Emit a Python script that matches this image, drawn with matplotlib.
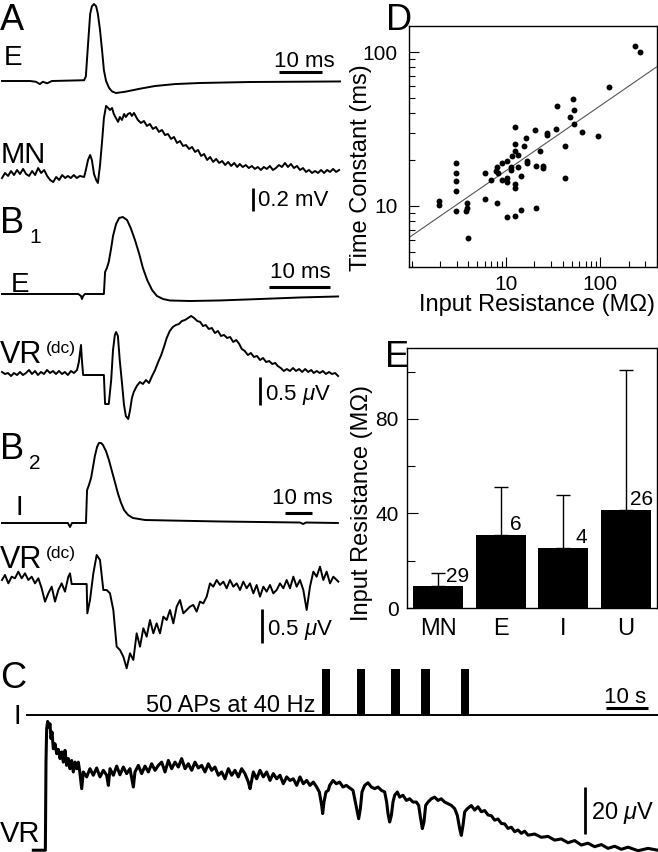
import numpy as np
import matplotlib
matplotlib.use("Agg")
import matplotlib.pyplot as plt
from matplotlib.ticker import FixedLocator, LogLocator, NullFormatter, FuncFormatter

plt.rcParams['font.family'] = ['Liberation Sans', 'DejaVu Sans']
plt.rcParams['mathtext.fontset'] = 'custom'
plt.rcParams['mathtext.rm'] = 'Liberation Sans'
plt.rcParams['mathtext.it'] = 'Liberation Sans:italic'

W, H = 658, 852

# ---- data ----
# A: E cell spike (normalised) and MN response (mV), time in ms
a_e = np.array([[0, 0], [6.5, 0], [7.9, -0.01], [8.8, -0.04], [9.5, -0.01], [10.5, -0.03], [11.6, 0],
                [19.1, 0.01], [19.5, 0.06], [20.0, 0.47], [20.5, 0.87], [20.9, 0.97], [21.4, 1.0],
                [21.9, 0.97], [22.3, 0.87], [22.8, 0.66], [23.3, 0.38], [23.7, 0.14], [24.2, 0],
                [24.9, -0.09], [25.6, -0.136], [26.5, -0.156], [28.6, -0.14], [32.1, -0.10],
                [35.6, -0.065], [40.2, -0.04], [46.0, -0.026], [57.7, -0.013], [78.6, -0.006]])

a_mn = np.array([[0, -0.009], [0.7, 0.035], [1.4, 0.009], [2.1, 0.052], [2.8, 0.017], [3.5, 0.061],
                 [4.2, 0.026], [4.9, 0.070], [5.6, 0.026], [6.3, 0.009], [7.0, 0.052], [7.7, 0.017],
                 [8.4, 0.078], [9.1, 0.035], [9.8, 0.061], [10.5, 0.009], [11.2, -0.026], [11.9, -0.044],
                 [12.6, 0], [13.3, -0.026], [14.0, 0.017], [14.7, -0.009], [15.3, 0.009], [16.0, -0.009],
                 [16.7, 0.017], [17.4, -0.009], [18.1, 0.009], [19.1, 0], [19.5, 0.061], [20.0, 0.148],
                 [20.5, 0.191], [20.9, 0.148], [21.4, 0.026], [21.9, -0.026], [22.3, -0.052], [22.8, 0.104],
                 [23.3, 0.322], [23.7, 0.513], [24.2, 0.618], [24.7, 0.600], [25.1, 0.583], [25.6, 0.600],
                 [26.0, 0.548], [26.5, 0.513], [27.0, 0.479], [27.4, 0.522], [27.9, 0.496], [28.4, 0.548],
                 [28.8, 0.522], [29.3, 0.548], [29.8, 0.557], [30.2, 0.531], [30.7, 0.557], [31.2, 0.522],
                 [31.6, 0.496], [32.3, 0.470], [33.0, 0.487], [33.7, 0.444], [34.4, 0.461], [35.1, 0.418],
                 [35.8, 0.435], [36.5, 0.392], [37.2, 0.409], [37.9, 0.365], [38.6, 0.374], [39.3, 0.331],
                 [40.0, 0.348], [40.7, 0.296], [41.4, 0.313], [42.1, 0.270], [42.8, 0.278], [43.5, 0.244],
                 [44.2, 0.261], [44.9, 0.218], [45.6, 0.235], [46.3, 0.183], [47.0, 0.200], [47.7, 0.148],
                 [48.4, 0.174], [49.1, 0.131], [49.8, 0.157], [50.5, 0.122], [51.2, 0.139], [51.9, 0.104],
                 [52.6, 0.131], [53.3, 0.096], [54.0, 0.122], [54.7, 0.087], [55.3, 0.113], [56.0, 0.087],
                 [56.7, 0.104], [57.4, 0.078], [58.1, 0.096], [58.8, 0.070], [59.5, 0.087], [60.2, 0.061],
                 [60.9, 0.087], [61.6, 0.070], [62.3, 0.096], [63.0, 0.061], [63.7, 0.078], [64.4, 0.104],
                 [65.1, 0.087], [65.8, 0.122], [66.5, 0.087], [67.2, 0.113], [67.9, 0.078], [68.6, 0.096],
                 [69.3, 0.061], [70.0, 0.078], [70.7, 0.044], [71.4, 0.061], [72.1, 0.035], [72.8, 0.052],
                 [73.5, 0.035], [74.2, 0.061], [74.9, 0.035], [75.6, 0.061], [76.3, 0.044], [77.0, 0.070],
                 [77.7, 0.044], [78.4, 0.061]])

# B1: E cell spike (normalised) and ventral root dc (uV), ms
b1_e = np.array([[0, 0], [12.5, 0], [12.95, -0.026], [13.1, -0.065], [13.3, -0.026], [13.6, 0], [16.7, 0],
                 [16.9, 0.286], [17.2, 0.338], [17.5, 0.416], [17.9, 0.597], [18.2, 0.753], [18.7, 0.909],
                 [19.2, 0.987], [19.8, 1.0], [20.5, 0.961], [21.1, 0.857], [21.8, 0.701], [22.5, 0.519],
                 [23.1, 0.338], [23.8, 0.182], [24.6, 0.052], [25.4, -0.026], [26.4, -0.065], [27.5, -0.084],
                 [30.8, -0.091], [35.7, -0.084], [42.3, -0.065], [48.9, -0.045], [55.1, -0.032]])

b1_vr = np.array([[0, 0.018], [0.49, -0.018], [0.98, 0], [1.48, -0.054], [1.97, 0], [2.46, -0.036],
                  [2.95, 0.018], [3.44, -0.036], [3.93, 0], [4.43, 0.054], [4.92, -0.018], [5.41, 0.036],
                  [5.90, -0.036], [6.39, 0.018], [6.89, -0.018], [7.38, 0.054], [7.87, 0], [8.36, 0.036],
                  [8.85, -0.018], [9.34, 0.036], [9.84, -0.018], [10.3, 0.018], [10.8, -0.036], [11.3, 0.036],
                  [11.8, 0], [12.3, 0.054], [12.6, 0.196], [12.95, 0.5], [13.1, 0.232], [13.3, -0.036],
                  [16.7, -0.036], [16.9, -0.554], [17.5, -0.554], [17.9, -0.125], [18.2, 0.411], [18.5, 0.679],
                  [18.7, 0.732], [19.0, 0.661], [19.3, 0.232], [19.7, -0.214], [20.0, -0.571], [20.3, -0.768],
                  [20.7, -0.821], [21.0, -0.661], [21.3, -0.446], [21.6, -0.339], [22.1, -0.232], [22.6, -0.161],
                  [23.1, -0.196], [23.6, -0.125], [24.1, -0.179], [24.6, -0.054], [25.1, 0.054], [25.6, 0.196],
                  [26.1, 0.321], [26.6, 0.482], [27.0, 0.625], [27.5, 0.75], [28.0, 0.821], [28.5, 0.857],
                  [29.0, 0.875], [29.5, 0.929], [30.0, 0.946], [30.5, 0.982], [31.0, 1.018], [31.5, 0.982],
                  [32.0, 0.929], [32.5, 0.911], [32.95, 0.839], [33.4, 0.857], [33.9, 0.786], [34.4, 0.804],
                  [34.9, 0.714], [35.4, 0.75], [35.9, 0.661], [36.4, 0.679], [36.9, 0.625], [37.4, 0.643],
                  [37.9, 0.554], [38.4, 0.589], [38.9, 0.518], [39.3, 0.429], [39.8, 0.393], [40.3, 0.321],
                  [40.8, 0.357], [41.3, 0.286], [41.8, 0.304], [42.3, 0.232], [42.8, 0.268], [43.3, 0.196],
                  [43.8, 0.214], [44.3, 0.161], [44.8, 0.179], [45.2, 0.125], [45.7, 0.089], [46.2, 0.036],
                  [46.7, 0.071], [47.2, 0.036], [47.7, 0.089], [48.2, 0.036], [48.7, 0.071], [49.2, 0.018],
                  [49.7, 0.071], [50.2, 0.018], [50.7, 0.054], [51.1, 0], [51.6, 0.036], [52.1, 0],
                  [52.6, 0.036], [53.1, -0.018], [53.6, 0.018], [54.1, -0.018], [54.6, 0], [55.1, -0.054]])

# B2: I cell spike (normalised) and ventral root dc (uV), ms
b2_i = np.array([[0, 0], [24.4, 0], [25.2, -0.05], [25.9, 0], [31.1, 0], [31.5, 0.41], [32.2, 0.475],
                 [33.0, 0.5625], [33.7, 0.70], [34.4, 0.8375], [35.2, 0.95], [35.9, 1.0], [36.7, 1.0],
                 [37.4, 0.975], [38.5, 0.9], [39.6, 0.7875], [40.7, 0.65], [41.9, 0.50], [43.0, 0.3625],
                 [44.1, 0.25], [45.2, 0.1625], [46.7, 0.10], [48.5, 0.0625], [53.0, 0.0375], [62.2, 0.031],
                 [80.7, 0.019], [110.4, 0.006], [111.5, -0.0125], [112.6, 0.006], [124.4, 0]])

b2_vr = np.array([[0, 0.044], [1.11, 0.118], [2.35, -0.005], [3.58, 0.093], [4.81, 0.069], [6.05, 0.167],
                  [7.28, 0.069], [8.52, 0.142], [9.75, 0.044], [10.99, 0.093], [12.22, -0.005], [13.46, 0.069],
                  [14.69, -0.078], [15.93, -0.274], [17.16, -0.152], [18.40, -0.054], [19.63, -0.274],
                  [20.86, -0.103], [22.10, -0.005], [23.33, -0.127], [24.57, 0.093], [25.19, 0.142],
                  [25.80, -0.015], [31.36, -0.015], [31.60, -0.446], [32.59, -0.250], [33.83, 0.142],
                  [35.06, 0.412], [36.30, 0.338], [37.53, -0.103], [38.77, -0.103], [40.0, -0.152],
                  [41.23, -0.397], [42.47, -0.936], [43.70, -0.985], [44.94, -1.083], [46.17, -1.254],
                  [47.41, -1.034], [48.64, -1.132], [49.88, -0.740], [51.11, -0.936], [52.35, -0.666],
                  [53.58, -0.789], [54.81, -0.544], [56.05, -0.740], [57.28, -0.593], [58.52, -0.740],
                  [59.75, -0.495], [60.99, -0.544], [62.22, -0.397], [63.46, -0.593], [64.69, -0.348],
                  [65.93, -0.250], [67.16, -0.446], [68.40, -0.397], [69.63, -0.348], [70.86, -0.323],
                  [72.10, -0.421], [73.33, -0.274], [74.57, -0.299], [75.80, -0.201], [77.04, -0.005],
                  [78.27, -0.054], [79.51, 0.044], [80.74, -0.029], [81.98, 0.020], [83.21, -0.078],
                  [84.44, 0.044], [85.68, -0.054], [86.91, -0.005], [88.15, -0.103], [89.38, 0.020],
                  [90.62, -0.078], [91.85, -0.005], [93.09, -0.152], [94.32, -0.029], [95.56, -0.201],
                  [96.79, -0.054], [98.02, -0.127], [99.26, -0.029], [100.49, -0.152], [101.73, -0.103],
                  [102.96, -0.005], [104.20, -0.078], [105.43, 0.044], [106.67, -0.078], [107.90, 0.093],
                  [109.14, -0.054], [110.37, 0.044], [111.60, -0.103], [112.84, -0.397], [114.07, -0.054],
                  [115.31, 0.167], [116.54, 0.093], [117.78, 0.240], [119.01, 0.044], [120.25, 0.167],
                  [121.48, -0.005], [122.72, 0.093], [124.57, 0.020]])

# C: stimulus trains (s) and ventral root response (uV), time in s
c_i_span = [0, 150.2]
train_start = [70.2, 78.6, 86.7, 93.8, 103.3]
train_end = [72.1, 80.5, 88.8, 95.9, 105.2]

c_vr = np.array([[1.51, -0.1], [4.37, -0.1], [4.52, 37.4], [4.68, 51.6], [4.92, 54.7], [5.24, 52.3],
                 [5.48, 53.7], [5.71, 47.4], [5.95, 50.2], [6.27, 43.1], [6.67, 45.2], [7.06, 41.0],
                 [7.46, 42.8], [7.86, 38.9], [8.25, 41.7], [8.65, 37.4], [9.05, 42.4], [9.44, 36.0],
                 [9.84, 38.9], [10.24, 34.6], [10.63, 38.1], [11.03, 33.2], [11.43, 37.4], [11.83, 34.6],
                 [12.22, 37.4], [12.62, 32.5], [13.02, 26.1], [13.41, 33.2], [14.21, 31.1], [15.0, 34.6],
                 [15.79, 31.8], [16.59, 34.9], [17.38, 31.1], [18.17, 33.9], [18.97, 31.8], [19.37, 27.5],
                 [19.76, 34.6], [20.56, 31.8], [21.35, 35.7], [22.14, 32.0], [22.94, 35.3], [23.73, 32.5],
                 [24.52, 34.6], [25.32, 26.8], [25.71, 33.2], [26.51, 36.0], [27.30, 32.5], [28.10, 35.7],
                 [28.89, 33.2], [29.68, 36.7], [30.48, 33.9], [31.27, 36.0], [32.06, 37.4], [32.86, 33.2],
                 [33.65, 38.1], [34.44, 34.6], [35.24, 37.4], [36.03, 35.3], [36.83, 38.9], [37.62, 34.6],
                 [38.41, 36.7], [39.21, 33.9], [40.0, 37.4], [40.79, 34.9], [41.59, 36.0], [42.38, 33.2],
                 [43.17, 36.7], [43.97, 33.9], [44.76, 35.3], [45.56, 31.8], [46.35, 33.2], [47.14, 30.3],
                 [47.94, 34.6], [48.73, 31.8], [49.52, 33.9], [50.32, 31.1], [51.11, 34.6], [51.90, 32.5],
                 [52.70, 28.9], [53.10, 26.1], [53.89, 33.2], [54.68, 30.3], [55.48, 33.9], [56.27, 31.1],
                 [57.06, 33.2], [57.86, 29.6], [58.65, 32.5], [59.44, 30.3], [60.24, 31.8], [61.03, 28.2],
                 [61.83, 31.1], [62.62, 29.6], [63.41, 30.3], [64.21, 27.5], [65.0, 31.1], [65.79, 28.2],
                 [66.59, 29.6], [67.38, 27.5], [68.17, 28.9], [68.97, 26.8], [69.60, 24.7], [70.16, 19.0],
                 [70.40, 15.5], [70.71, 20.4], [71.19, 24.7], [71.75, 25.4], [72.06, 27.5], [72.86, 29.6],
                 [73.65, 28.2], [74.44, 28.9], [75.24, 26.8], [76.03, 27.5], [76.83, 26.4], [77.62, 25.4],
                 [78.17, 20.4], [78.65, 16.2], [78.97, 13.3], [79.37, 17.6], [79.76, 24.7], [80.40, 27.5],
                 [81.19, 28.6], [81.98, 26.8], [82.78, 26.1], [83.57, 26.8], [84.37, 25.4], [85.16, 24.7],
                 [85.63, 20.4], [85.95, 15.5], [86.35, 11.9], [86.75, 14.7], [87.14, 20.4], [87.54, 23.3],
                 [88.17, 24.7], [88.73, 22.5], [89.52, 23.3], [90.32, 21.1], [91.11, 21.8], [91.90, 20.4],
                 [92.70, 20.4], [93.25, 19.0], [93.73, 13.3], [94.13, 9.1], [94.52, 11.9], [94.92, 19.0],
                 [95.48, 20.4], [96.27, 21.8], [97.06, 22.5], [97.86, 21.1], [98.65, 21.8], [99.44, 20.4],
                 [100.24, 19.7], [101.03, 19.0], [101.83, 17.6], [102.46, 14.7], [103.02, 9.1], [103.41, 6.2],
                 [103.81, 10.5], [104.21, 16.2], [104.84, 17.6], [105.79, 18.9], [106.59, 17.0], [107.38, 18.4],
                 [108.17, 16.3], [108.97, 16.8], [109.76, 14.9], [110.56, 14.6], [111.35, 12.7], [112.14, 13.2],
                 [112.94, 11.3], [113.73, 11.1], [114.52, 9.2], [115.32, 9.7], [116.11, 7.8], [116.90, 8.5],
                 [117.70, 7.1], [118.49, 8.0], [119.29, 6.3], [120.87, 6.8], [122.46, 5.4], [124.05, 5.8],
                 [125.63, 4.2], [127.22, 4.7], [128.81, 3.1], [130.40, 4.0], [131.98, 2.1], [133.57, 2.9],
                 [135.16, 1.4], [136.75, 2.3], [138.33, 0.7], [139.92, 1.6], [141.51, 0.3], [143.10, 1.2],
                 [145.48, -0.3], [147.86, 0.7], [150.24, -0.1]])

# D: input resistance (MOhm) vs time constant (ms)
d_res = [235.6, 262, 122.8, 51.2, 35.2, 53.3, 48, 53.3, 33.7, 63.8,
         94.4, 27.1, 27.1, 20.5, 12.4, 16.4, 12.5, 15.5, 42.5, 23,
         12.5, 13.4, 11.5, 10.2, 9.06, 8.15, 7.83, 8.29, 11.4, 11.4,
         13.5, 16.6, 16.6, 20.8, 24.9, 24.9, 6.03, 7.04, 9.14, 10.3,
         10.2, 14.5, 12.5, 12.4, 42.5, 2.96, 2.96, 2.96, 2.96, 1.94,
         1.94, 2.96, 3.91, 3.91, 3.82, 3.97, 6.03, 8.09, 10.2, 12.4,
         14.5, 20.7]
d_tau = [110.4, 101, 59.2, 49.3, 44.7, 42.1, 38, 34.1, 31.6, 30.2,
         28.4, 29.9, 28.9, 31.1, 32.4, 27.7, 25.1, 24.5, 24.6, 22.9,
         22.9, 21.4, 21.1, 19.6, 18.9, 17.8, 16.9, 16.3, 18, 17.1,
         18, 19.5, 18.9, 18.1, 18.1, 17.5, 16.4, 14.7, 14.8, 15.1,
         14.2, 15.6, 13.8, 13, 15.2, 18.9, 16.4, 14.6, 12.5, 10.8,
         10.2, 9.27, 10.4, 9.75, 9.27, 6.21, 11.1, 10.5, 8.47, 8.57,
         9.46, 9.62]
fit_slope = 0.423
fit_log_intercept = 0.805

# E: mean input resistance per cell class
e_cells = ['MN', 'E', 'I', 'U']
e_mean = [9.1, 31.0, 25.3, 41.4]
e_sd = [5.6, 20.2, 22.3, 59.5]
e_n = ['29', '6', '4', '26']

fig = plt.figure(figsize=(W / 100, H / 100), dpi=100)


def px_axes(x0, y0, x1, y1):
    return fig.add_axes([x0 / W, 1 - y1 / H, (x1 - x0) / W, (y1 - y0) / H])


def trace_axes(t_px, px_per_t, v_px, px_per_v):
    # whole-figure axes; zero of the trace sits at pixel (t_px, v_px)
    ax = fig.add_axes([0, 0, 1, 1])
    ax.set_xlim(-t_px / px_per_t, (W - t_px) / px_per_t)
    ax.set_ylim(-(H - v_px) / px_per_v, v_px / px_per_v)
    ax.axis('off')
    return ax


def scale_bar(ax, x_px, y_px, length, vertical=False, lw=2.2):
    t0, v0 = ax.transData.inverted().transform((x_px, H - y_px))
    if vertical:
        ax.plot([t0, t0], [v0, v0 - length], color='black', lw=lw, solid_capstyle='butt')
    else:
        ax.plot([t0, t0 + length], [v0, v0], color='black', lw=lw, solid_capstyle='butt')


lw_tr = 1.4

# A
ax = trace_axes(2, 4.3, 81, 77)
ax.plot(a_e[:, 0], a_e[:, 1], color='black', lw=lw_tr)
scale_bar(ax, 279, 72, 10)
ax = trace_axes(2, 4.3, 177, 115)
ax.plot(a_mn[:, 0], a_mn[:, 1], color='black', lw=lw_tr)
scale_bar(ax, 253, 188, 0.2, vertical=True, lw=2.0)

# B1
ax = trace_axes(2, 6.1, 294, 77)
ax.plot(b1_e[:, 0], b1_e[:, 1], color='black', lw=lw_tr)
scale_bar(ax, 269, 287, 10)
ax = trace_axes(2, 6.1, 373, 56)
ax.plot(b1_vr[:, 0], b1_vr[:, 1], color='black', lw=lw_tr)
scale_bar(ax, 260, 377, 0.5, vertical=True, lw=2.0)

# B2
ax = trace_axes(2, 2.7, 523, 80)
ax.plot(b2_i[:, 0], b2_i[:, 1], color='black', lw=lw_tr)
scale_bar(ax, 285, 513, 10)
ax = trace_axes(2, 2.7, 583, 68)
ax.plot(b2_vr[:, 0], b2_vr[:, 1], color='black', lw=lw_tr)
scale_bar(ax, 262, 609, 0.5, vertical=True, lw=2.0)

# C
ax = trace_axes(27, 4.2, 715, 46)
ax.plot(c_i_span, [0, 0], color='black', lw=lw_tr)
ax.bar(train_start, 1.0, width=np.array(train_end) - np.array(train_start), align='edge',
       color='black', edgecolor='black', lw=0)
scale_bar(ax, 606, 708, 10)
ax = trace_axes(27, 4.2, 850, 2.35)
ax.plot(c_vr[:, 0], c_vr[:, 1], color='black', lw=2.2)
scale_bar(ax, 585, 787, 20, vertical=True, lw=2.0)

# D: scatter on log axes
ax = px_axes(409, 26, 657, 267)
ax.set_xscale('log')
ax.set_yscale('log')
ax.set_xlim(0.94, 400)
ax.set_ylim(4, 148)
ax.scatter(d_res, d_tau, s=18, color='black', lw=0, zorder=3)
xf = np.array(ax.get_xlim())
ax.plot(xf, 10 ** fit_log_intercept * xf ** fit_slope, color='#555555', lw=0.8)
for axis in (ax.xaxis, ax.yaxis):
    axis.set_major_locator(FixedLocator([10, 100]))
    axis.set_major_formatter(FuncFormatter(lambda v, _: f'{v:g}'))
    axis.set_minor_locator(LogLocator(base=10, subs=range(1, 10)))
    axis.set_minor_formatter(NullFormatter())
ax.tick_params(which='both', direction='in', top=False, right=False, labelsize=15, width=0.8)
ax.tick_params(which='major', length=7)
ax.tick_params(which='minor', length=4)
ax.tick_params(axis='y', pad=8)
ax.tick_params(axis='x', pad=6)
for s in ax.spines.values():
    s.set_linewidth(1.0)

# E: bar chart
ax = px_axes(407, 348, 657, 608)
xpos = np.arange(len(e_cells))
ax.bar(xpos, e_mean, width=0.8, color='black')
ax.errorbar(xpos, e_mean, yerr=[np.zeros(len(e_sd)), e_sd], fmt='none', ecolor='black',
            elinewidth=1, capsize=5, capthick=1)
n_dx = [0.13, 0.15, 0.19, 0.075]
for i, lab in enumerate(e_n):
    ax.text(xpos[i] + n_dx[i], e_mean[i] + 2, lab, fontsize=15, ha='left', va='baseline')
ax.set_xlim(-0.5, 3.5)
ax.set_ylim(0, 110)
ax.set_xticks(xpos)
ax.set_xticklabels(e_cells)
ax.set_yticks([0, 40, 80])
ax.set_yticks([20, 60, 100], minor=True)
ax.tick_params(axis='x', length=0, labelsize=17, pad=7)
ax.tick_params(axis='y', which='both', direction='in', labelsize=15, pad=6, width=0.8)
ax.tick_params(axis='y', which='major', length=8)
ax.tick_params(axis='y', which='minor', length=6)
for s in ax.spines.values():
    s.set_linewidth(1.0)

# text overlay in pixel coordinates
ov = fig.add_axes([0, 0, 1, 1])
ov.set_xlim(0, W)
ov.set_ylim(H, 0)
ov.axis('off')


def txt(x, y, s, size, **kw):
    ov.text(x, y, s, fontsize=size, ha=kw.pop('ha', 'left'), va=kw.pop('va', 'baseline'), **kw)


# panel letters
txt(0, 30, 'A', 26)
txt(386, 30, 'D', 26)
txt(0, 233, 'B', 26)
txt(29, 243, '1', 15)
txt(0, 459, 'B', 26)
txt(29, 469, '2', 15)
txt(0, 688, 'C', 26)
txt(385, 367, 'E', 26)

# trace labels
txt(4, 65, 'E', 20)
txt(1, 163, 'MN', 21)
txt(11, 292, 'E', 20)
txt(0, 363, 'VR', 22)
txt(46, 353, '(dc)', 12.5)
txt(15, 515, 'I', 20)
txt(0, 568, 'VR', 22)
txt(46, 558, '(dc)', 12.5)
txt(13, 724, 'I', 20)
txt(0, 842, 'VR', 21)

# scale labels
txt(304, 67, '10 ms', 16, ha='center')
txt(258, 206, '0.2 mV', 16)
txt(300, 278, '10 ms', 16, ha='center')
txt(265, 400, r'0.5 $\mu$V', 16)
txt(302, 504, '10 ms', 16, ha='center')
txt(267, 635, r'0.5 $\mu$V', 16)
txt(315, 712, '50 APs at 40 Hz', 17, ha='right')
txt(625, 703, '10 s', 16, ha='center')
txt(591, 819, r'20 $\mu$V', 17)

# axis titles
txt(361, 168, 'Time Constant (ms)', 17, ha='center', va='center', rotation=90)
txt(537, 311, 'Input Resistance (M\u03a9)', 17, ha='center')
txt(362, 503, 'Input Resistance (M\u03a9)', 17, ha='center', va='center', rotation=90)

fig.savefig('out.png', dpi=100)
